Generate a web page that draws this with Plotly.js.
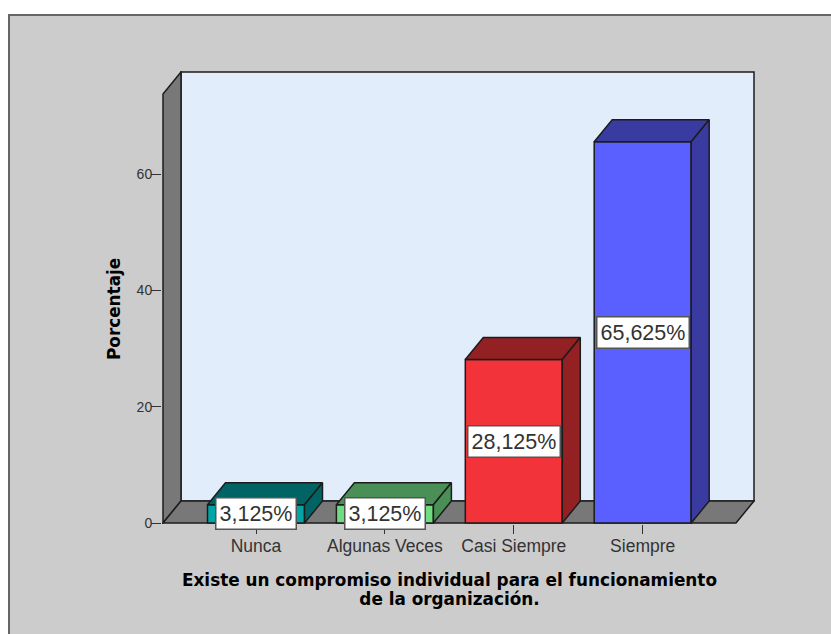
<!DOCTYPE html>
<html>
<head>
<meta charset="utf-8">
<script src="https://cdn.plot.ly/plotly-3.0.1.min.js"></script>
<style>html,body{margin:0;padding:0;background:#fff}</style>
</head>
<body>
<div id="chart" style="width:831px;height:634px"></div>
<script>
const categories = ["Nunca", "Algunas Veces", "Casi Siempre", "Siempre"];
const percentages = [3.125, 3.125, 28.125, 65.625];
const frontColors = ["#00a5a5", "#70dc80", "#f23339", "#5a60ff"];
const darkColors = ["#006464", "#4a8f55", "#932023", "#3a3ba0"];
const yTicks = [0, 20, 40, 60];
const xTitleLines = ["Existe un compromiso individual para el funcionamiento", "de la organización."];
const yTitle = "Porcentaje";

const barWidth = 0.7525, depthX = 0.1396, depthY = 3.787;
const xMin = -0.7215, xMax = 3.8635, yMax = 77.62;
const edge = "#1c1c1c";
const titleFont = {family: "DejaVu Sans, sans-serif", size: 14.6, color: "#000000", weight: "bold"};

const poly = (pts, fill) => ({
  type: "scatter", mode: "lines", x: pts.map(p => p[0]), y: pts.map(p => p[1]),
  fill: "toself", fillcolor: fill, line: {color: edge, width: 1.5, shape: "linear"},
  hoverinfo: "skip", showlegend: false
});
const pathOf = pts => "M" + pts.map(p => p[0] + "," + p[1]).join("L") + "Z";
const wallShape = (pts, fill) => ({
  type: "path", xref: "x", yref: "y", layer: "below", path: pathOf(pts),
  fillcolor: fill, line: {color: edge, width: 1.5}
});

const traces = [{
  type: "bar", x: categories.map((c, i) => i), y: percentages, width: barWidth,
  marker: {color: frontColors, line: {color: edge, width: 1.5}},
  hoverinfo: "skip", showlegend: false
}];
percentages.forEach((v, i) => {
  const l = i - barWidth / 2, r = i + barWidth / 2;
  traces.push(poly([[l, v], [l + depthX, v + depthY], [r + depthX, v + depthY], [r, v], [l, v]], darkColors[i]));
  traces.push(poly([[r, 0], [r, v], [r + depthX, v + depthY], [r + depthX, depthY], [r, 0]], darkColors[i]));
});

const px = 1 / 128.9, py = 1 / 5.81;
const bigSpan = t => '<span style="font-size:16.85px">' + t + '</span>';
const layout = {
  width: 831, height: 634, autosize: false,
  margin: {l: 162, r: 76, t: 71, b: 110, pad: 0},
  paper_bgcolor: "#ffffff", plot_bgcolor: "rgba(0,0,0,0)",
  bargap: 0, showlegend: false,
  font: {family: "Liberation Sans, Arial, sans-serif", color: "#333333"},
  xaxis: {
    range: [xMin - px, xMax + px], tickmode: "array",
    tickvals: categories.map((c, i) => i), ticktext: categories,
    ticks: "outside", ticklen: 9, tickwidth: 1, tickcolor: "#333333",
    tickfont: {size: 17.5, color: "#333333"}, ticklabelstandoff: -3,
    showgrid: false, zeroline: false, showline: false, fixedrange: true
  },
  yaxis: {
    range: [-py, yMax + py], tickmode: "array", tickvals: yTicks, ticktext: yTicks.map(String),
    ticks: "outside", ticklen: 10, tickwidth: 1, tickcolor: "#333333",
    tickfont: {size: 14, color: "#333333"}, ticklabelstandoff: -4,
    showgrid: false, zeroline: false, showline: false, fixedrange: true
  },
  shapes: [
    {type: "rect", xref: "paper", yref: "paper", layer: "below",
     x0: -0.258, x1: 1.3, y0: -0.4, y1: 1.1236,
     fillcolor: "#cccccc", line: {color: "#666666", width: 2}},
    wallShape([[xMin + depthX, depthY], [xMin + depthX, yMax], [xMax, yMax], [xMax, depthY]], "#e1edfb"),
    wallShape([[xMin, 0], [xMin, yMax - depthY], [xMin + depthX, yMax], [xMin + depthX, depthY]], "#787878"),
    wallShape([[xMin, 0], [xMin + depthX, depthY], [xMax, depthY], [xMax - depthX, 0]], "#787878")
  ],
  annotations: percentages.map((v, i) => ({
    x: i, y: v / 2, xref: "x", yref: "y", showarrow: false,
    text: v.toFixed(3).replace(".", ",") + "%",
    font: {size: 21.5, color: "#333333"},
    bgcolor: "#ffffff", bordercolor: "#555555", borderwidth: 1.5, borderpad: 3,
    height: 24, xanchor: "center", yanchor: "middle"
  })).concat([
    {x: 0.484, y: -0.1446, xref: "paper", yref: "paper", showarrow: false,
     text: xTitleLines.map(bigSpan).join("<br>"), font: titleFont, xanchor: "center", yanchor: "middle"},
    {x: -0.0809, y: 0.4746, xref: "paper", yref: "paper", showarrow: false, textangle: -90,
     text: bigSpan(yTitle), font: titleFont, xanchor: "center", yanchor: "middle"}
  ])
};
Plotly.newPlot("chart", traces, layout, {displayModeBar: false, staticPlot: true});
</script>
</body>
</html>
